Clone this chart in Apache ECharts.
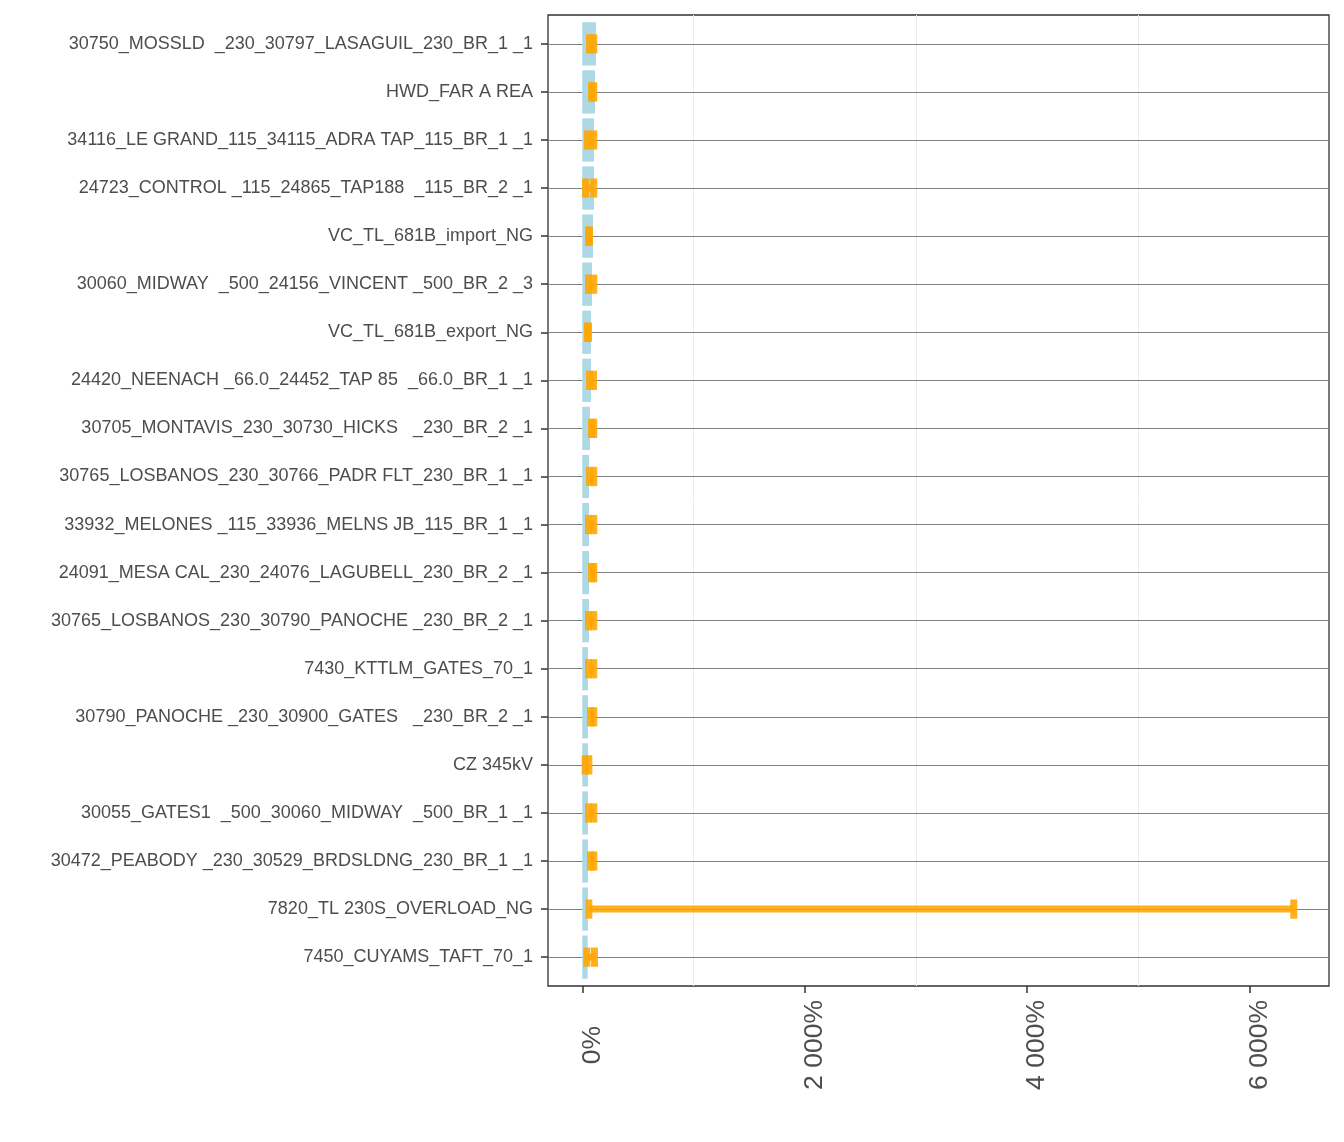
<!DOCTYPE html>
<html lang="en">
<head>
    <meta charset="UTF-8">
    <title>Constraint shadow price chart</title>
    <script src="https://cdn.jsdelivr.net/npm/echarts@6/dist/echarts.min.js"></script>
</head>
<style>
    body { margin: 0; padding: 0; background: #fff; }
    #main { width: 1344px; height: 1142px; }
</style>
<body>
<div id="main"></div>
<script>
    // categories, top to bottom
    var categories = [
        '30750_MOSSLD  _230_30797_LASAGUIL_230_BR_1 _1',
        'HWD_FAR A REA',
        '34116_LE GRAND_115_34115_ADRA TAP_115_BR_1 _1',
        '24723_CONTROL _115_24865_TAP188  _115_BR_2 _1',
        'VC_TL_681B_import_NG',
        '30060_MIDWAY  _500_24156_VINCENT _500_BR_2 _3',
        'VC_TL_681B_export_NG',
        '24420_NEENACH _66.0_24452_TAP 85  _66.0_BR_1 _1',
        '30705_MONTAVIS_230_30730_HICKS   _230_BR_2 _1',
        '30765_LOSBANOS_230_30766_PADR FLT_230_BR_1 _1',
        '33932_MELONES _115_33936_MELNS JB_115_BR_1 _1',
        '24091_MESA CAL_230_24076_LAGUBELL_230_BR_2 _1',
        '30765_LOSBANOS_230_30790_PANOCHE _230_BR_2 _1',
        '7430_KTTLM_GATES_70_1',
        '30790_PANOCHE _230_30900_GATES   _230_BR_2 _1',
        'CZ 345kV',
        '30055_GATES1  _500_30060_MIDWAY  _500_BR_1 _1',
        '30472_PEABODY _230_30529_BRDSLDNG_230_BR_1 _1',
        '7820_TL 230S_OVERLOAD_NG',
        '7450_CUYAMS_TAFT_70_1'
    ];

    // light blue bars (%)
    var barValues = [123, 114, 105, 105, 96, 87, 78, 78, 69, 60, 60, 60, 60, 51, 51, 51, 51, 51, 51, 48];

    // orange ranges (%)
    var rangeLow  = [65, 83, 47, 29, 56, 56, 47, 65, 83, 65, 56, 83, 56, 56, 74, 26, 56, 74, 59, 41];
    var rangeHigh = [103, 103, 103, 103, 65, 103, 56, 101, 103, 103, 103, 103, 103, 103, 103, 59, 103, 103, 6400, 110];

    // axis ticks
    var xTicks = [0, 2000, 4000, 6000];
    var xTickLabels = ['0%', '2 000%', '4 000%', '6 000%'];
    var xMinorGrid = [1000, 3000, 5000];

    var myChart = echarts.init(document.getElementById('main'));

    var yIndex = categories.map(function (c, i) { return i; });

    var option = {
        backgroundColor: '#ffffff',
        animation: false,
        textStyle: { fontFamily: 'Liberation Sans' },
        grid: {
            left: 548, right: 15, top: 15, bottom: 156,
            show: true, borderColor: '#333333', borderWidth: 1.3,
            backgroundColor: 'transparent',
            outerBoundsMode: 'none'
        },
        xAxis: {
            type: 'value',
            min: -308.5,
            max: 6717,
            axisLine: { show: false, onZero: false },
            splitLine: { show: false },
            axisTick: {
                customValues: xTicks, length: 7,
                lineStyle: { color: '#333333', width: 1.5 }
            },
            axisLabel: {
                customValues: xTicks,
                formatter: function (v) { return xTickLabels[xTicks.indexOf(v)]; },
                rotate: 90,
                align: 'center',
                verticalAlign: 'top',
                lineHeight: 20,
                fontSize: 26.5,
                margin: 59,
                color: '#4D4D4D'
            }
        },
        yAxis: {
            type: 'value',
            inverse: true,
            min: -0.6,
            max: 19.6,
            axisLine: { show: false, onZero: false },
            splitLine: { show: false },
            axisTick: {
                customValues: yIndex, length: 7,
                lineStyle: { color: '#333333', width: 1.5 }
            },
            axisLabel: {
                customValues: yIndex,
                formatter: function (v) { return categories[Math.round(v)]; },
                fontSize: 18,
                margin: 15,
                color: '#4D4D4D'
            }
        },
        series: [
            {
                type: 'custom',
                name: 'bars',
                z: 2,
                silent: true,
                data: barValues.map(function (v, i) { return [v, i]; }),
                encode: { x: 0, y: 1 },
                renderItem: function (params, api) {
                    var y = api.value(1);
                    var p0 = api.coord([0, y]);
                    var p1 = api.coord([api.value(0), y]);
                    var h = api.size([0, 0.9])[1];
                    return {
                        type: 'rect',
                        shape: { x: p0[0], y: p0[1] - h / 2, width: p1[0] - p0[0], height: h },
                        style: { fill: '#ADD8E6' }
                    };
                },
                markLine: {
                    z: 1,
                    silent: true,
                    symbol: ['none', 'none'],
                    label: { show: false },
                    lineStyle: { type: 'solid', width: 1, color: '#808080' },
                    data: xMinorGrid.map(function (v) {
                        return { xAxis: v, lineStyle: { color: '#EBEBEB', type: 'solid', width: 1 } };
                    }).concat(yIndex.map(function (i) { return { yAxis: i }; }))
                }
            },
            {
                type: 'custom',
                name: 'ranges',
                z: 3,
                silent: true,
                data: rangeLow.map(function (v, i) { return [v, rangeHigh[i], i]; }),
                encode: { x: [0, 1], y: 2 },
                renderItem: function (params, api) {
                    var y = api.value(2);
                    var lo = api.coord([api.value(0), y]);
                    var hi = api.coord([api.value(1), y]);
                    var capH = api.size([0, 0.4])[1];
                    var st = { stroke: 'rgba(255,165,0,0.88)', lineWidth: 7, lineCap: 'butt' };
                    return {
                        type: 'group',
                        children: [
                            { type: 'line', shape: { x1: lo[0], y1: lo[1], x2: hi[0], y2: hi[1] }, style: st },
                            { type: 'line', shape: { x1: lo[0], y1: lo[1] - capH / 2, x2: lo[0], y2: lo[1] + capH / 2 }, style: st },
                            { type: 'line', shape: { x1: hi[0], y1: hi[1] - capH / 2, x2: hi[0], y2: hi[1] + capH / 2 }, style: st }
                        ]
                    };
                }
            }
        ]
    };

    myChart.setOption(option);
</script>
</body>
</html>
